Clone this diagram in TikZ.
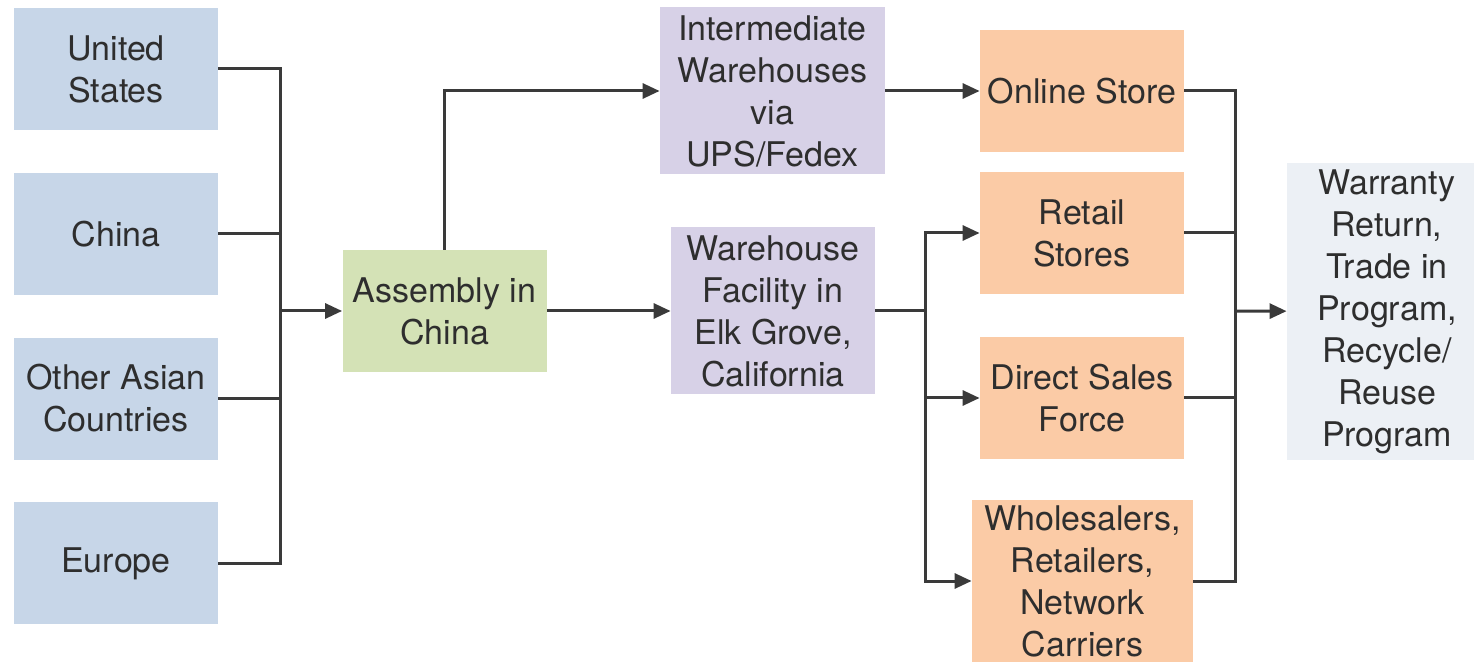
\documentclass[tikz,border=0pt]{standalone}
\usepackage{fontspec}
\setmainfont{TeX Gyre Heros}
\usetikzlibrary{arrows.meta}
\usetikzlibrary{positioning}
\usepackage{xcolor}

\definecolor{srcblue}{HTML}{C7D6E8}
\definecolor{asmgreen}{HTML}{D4E2B6}
\definecolor{whpurple}{HTML}{D7D1E7}
\definecolor{chorange}{HTML}{FBCBA6}
\definecolor{retgray}{HTML}{ECF0F5}
\definecolor{txtgray}{HTML}{2E2E2E}
\definecolor{linegray}{HTML}{3A3A3A}

\begin{document}
\begin{tikzpicture}[
    x=0.5pt, y=-0.5pt,
    node distance=21pt and 31pt,
    stage/.style={rectangle, fill=#1, text=txtgray, align=center,
        minimum width=102pt, minimum height=61pt, inner xsep=2pt, inner ysep=0pt,
        font=\fontsize{17}{21}\selectfont},
    link/.style={draw=linegray, line width=1.5pt},
    flow/.style={link, -{Triangle[length=8.5pt,width=7.5pt]}}
    ]
    \clip (0,0) rectangle (1474,663);

    % sources
    \node[stage=srcblue] (us) at (116,69) {United\\States};
    \node[stage=srcblue] (china) [below=of us] {China};
    \node[stage=srcblue] (asia) [below=of china] {Other Asian\\Countries};
    \node[stage=srcblue] (europe) [below=of asia] {Europe};

    \node[stage=asmgreen] (assembly) at (444.5,311) {Assembly in\\China};

    \node[stage=whpurple, minimum width=112.5pt, minimum height=83.5pt] (interwh) at (772.5,91) {Intermediate\\Warehouses\\via\\UPS/Fedex};
    \node[stage=whpurple, minimum height=83.5pt] (elkgrove) at (773,311) {Warehouse\\Facility in\\Elk Grove,\\California};

    % channels
    \node[stage=chorange] (online) at (1082,91) {Online Store};
    \node[stage=chorange] (retail) at (1082,233) {Retail\\Stores};
    \node[stage=chorange] (direct) at (1082,398) {Direct Sales\\Force};
    \node[stage=chorange, minimum width=110.5pt, minimum height=81pt] (wholesale) at (1082.5,581) {Wholesalers,\\Retailers,\\Network\\Carriers};

    \node[stage=retgray, minimum width=100pt, minimum height=148.5pt] (warranty) at (1387,311.5) {Warranty\\Return,\\Trade in\\Program,\\Recycle/\\Reuse\\Program};

    \coordinate (srcjoin) at (280,311);
    \coordinate (whjoin) at (925,311);
    \coordinate (chjoin) at (1235,311);

    \draw[link] (us.east) -| (srcjoin);
    \draw[link] (china.east) -| (srcjoin);
    \draw[link] (asia.east) -| (srcjoin);
    \draw[link] (europe.east) -| (srcjoin);
    \draw[flow] (srcjoin) -- (assembly);

    \draw[flow] (assembly.north) |- (interwh.west);
    \draw[flow] (assembly) -- (elkgrove);
    \draw[flow] (interwh) -- (online);

    \draw[link] (elkgrove) -- (whjoin);
    \draw[flow] (whjoin) |- (retail.west);
    \draw[flow] (whjoin) |- (direct.west);
    \draw[flow] (whjoin) |- (wholesale.west);

    \draw[link] (online.east) -| (chjoin);
    \draw[link] (retail.east) -| (chjoin);
    \draw[link] (direct.east) -| (chjoin);
    \draw[link] (wholesale.east) -| (chjoin);
    \draw[flow] (chjoin) -- (warranty);

  \end{tikzpicture}
\end{document}
